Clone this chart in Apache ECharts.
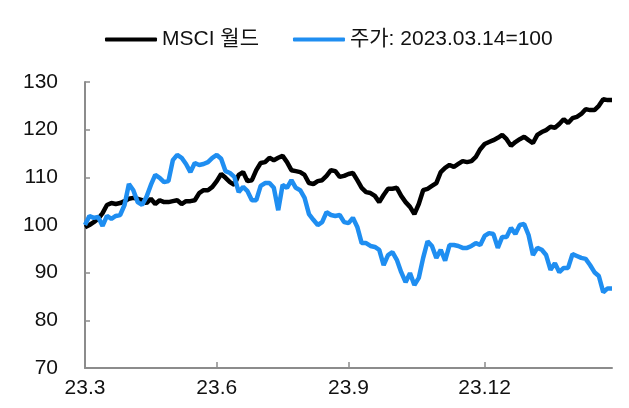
<!DOCTYPE html>
<html><head><meta charset="utf-8">
<script src="https://cdn.jsdelivr.net/npm/echarts@6/dist/echarts.min.js"></script>
<style>html,body{margin:0;padding:0;background:#fff}#c{width:629px;height:408px}</style>
</head><body><div id="c"></div>
<script>
const seriesNames = ['MSCI 월드', '주가: 2023.03.14=100'];
const msciWorld = [99.5,100.0,100.6,101.3,102.5,104.2,104.6,104.4,104.6,105.0,
105.5,105.7,105.5,105.2,104.6,105.5,104.4,105.2,104.8,104.8,
105.0,105.2,104.4,105.0,105.0,105.2,106.7,107.3,107.3,108.0,
109.2,110.7,109.9,109.0,108.4,110.5,111.1,109.2,109.4,111.5,
113.0,113.2,114.1,113.6,114.1,114.5,113.2,111.5,111.3,111.1,
110.5,108.8,108.6,109.2,109.4,110.3,111.5,111.3,110.1,110.3,
110.7,110.9,109.4,107.8,106.9,106.7,106.1,104.8,106.3,107.6,
107.6,107.8,106.1,104.8,103.8,102.3,104.4,107.3,107.6,108.2,
108.8,111.1,112.0,112.6,112.2,112.8,113.4,113.2,113.4,114.3,
115.9,117.0,117.4,117.8,118.3,118.9,118.0,116.6,117.4,118.0,
118.5,117.8,117.2,118.9,119.5,119.9,120.6,120.4,121.2,122.2,
121.4,122.4,122.7,123.3,124.3,124.1,124.1,125.0,126.4,126.2,
126.2];
const stockPrice = [100.0,101.9,101.5,101.7,99.8,101.9,101.3,101.9,102.1,104.2,
108.6,107.3,104.8,104.2,105.9,108.4,110.5,109.9,109.0,109.2,
113.6,114.7,114.1,112.8,111.1,113.0,112.6,112.8,113.2,114.1,
114.7,113.9,111.3,110.9,110.1,106.9,108.0,107.1,105.2,105.2,
108.2,108.8,108.8,107.8,103.1,108.4,107.8,109.4,107.8,107.3,
105.7,102.3,101.1,100.0,100.6,102.7,102.1,101.9,102.1,100.6,
100.4,101.5,99.6,96.2,96.2,95.6,95.4,94.8,91.6,93.7,
94.3,92.7,90.1,88.0,89.9,87.4,88.9,93.1,96.6,95.6,
93.1,94.8,92.5,95.8,95.8,95.6,95.2,95.2,95.6,96.2,
95.8,97.7,98.3,98.1,95.2,97.5,97.5,99.4,98.1,100.0,
100.2,97.9,93.7,95.2,94.8,93.7,90.6,92.0,90.1,91.0,
91.0,93.9,93.5,93.1,92.9,91.6,90.1,89.3,85.9,86.7,
86.7];
const tickLabels = ['23.3', '23.6', '23.9', '23.12'];
const tickIndices = [0, 30, 60, 91];
const yMin = 70, yMax = 130, yStep = 10;

const categories = msciWorld.map((_, i) => {
  const d = new Date(Date.UTC(2023, 2, 14) + Math.round(i * 366 / 120) * 86400000);
  return String(d.getUTCFullYear()).slice(2) + '.' + (d.getUTCMonth() + 1) + '.' + d.getUTCDate();
});

const FONT = '"Liberation Sans Narrow", "Liberation Sans", "Noto Sans CJK KR", sans-serif';
const chart = echarts.init(document.getElementById('c'), null, {renderer: 'canvas'});
chart.setOption({
  animation: false,
  backgroundColor: '#ffffff',
  legend: {
    data: seriesNames,
    left: 100, top: 24,
    itemWidth: 52, itemHeight: 4, itemGap: 34,
    icon: 'roundRect',
    textStyle: {fontFamily: FONT, fontSize: 21, color: '#111'}
  },
  grid: {left: 85, right: 17, top: 82, bottom: 40, containLabel: false},
  xAxis: {
    type: 'category',
    data: categories,
    boundaryGap: false,
    axisLine: {lineStyle: {color: '#8c8c8c', width: 2}},
    axisTick: {inside: true, length: 6, lineStyle: {color: '#8c8c8c', width: 1.5},
      interval: (i) => tickIndices.includes(i)},
    axisLabel: {
      interval: (i) => tickIndices.includes(i),
      formatter: (v, i) => { const k = tickIndices.indexOf(i); return k >= 0 ? tickLabels[k] : ''; },
      fontFamily: FONT, fontSize: 21, color: '#111', margin: 10
    },
    splitLine: {show: false}
  },
  yAxis: {
    type: 'value', min: yMin, max: yMax, interval: yStep,
    axisLine: {show: true, lineStyle: {color: '#8c8c8c', width: 2}},
    axisTick: {show: true, inside: true, length: 5, lineStyle: {color: '#8c8c8c', width: 1.5}},
    axisLabel: {fontFamily: FONT, fontSize: 21, color: '#111', margin: 27},
    splitLine: {show: false}
  },
  series: [
    {name: seriesNames[0], type: 'line', data: msciWorld, symbol: 'none', smooth: false,
     lineStyle: {color: '#000000', width: 4.5}, itemStyle: {color: '#000000'}},
    {name: seriesNames[1], type: 'line', data: stockPrice, symbol: 'none', smooth: false,
     lineStyle: {color: '#1f8ef1', width: 4.5}, itemStyle: {color: '#1f8ef1'}}
  ]
});
</script></body></html>
